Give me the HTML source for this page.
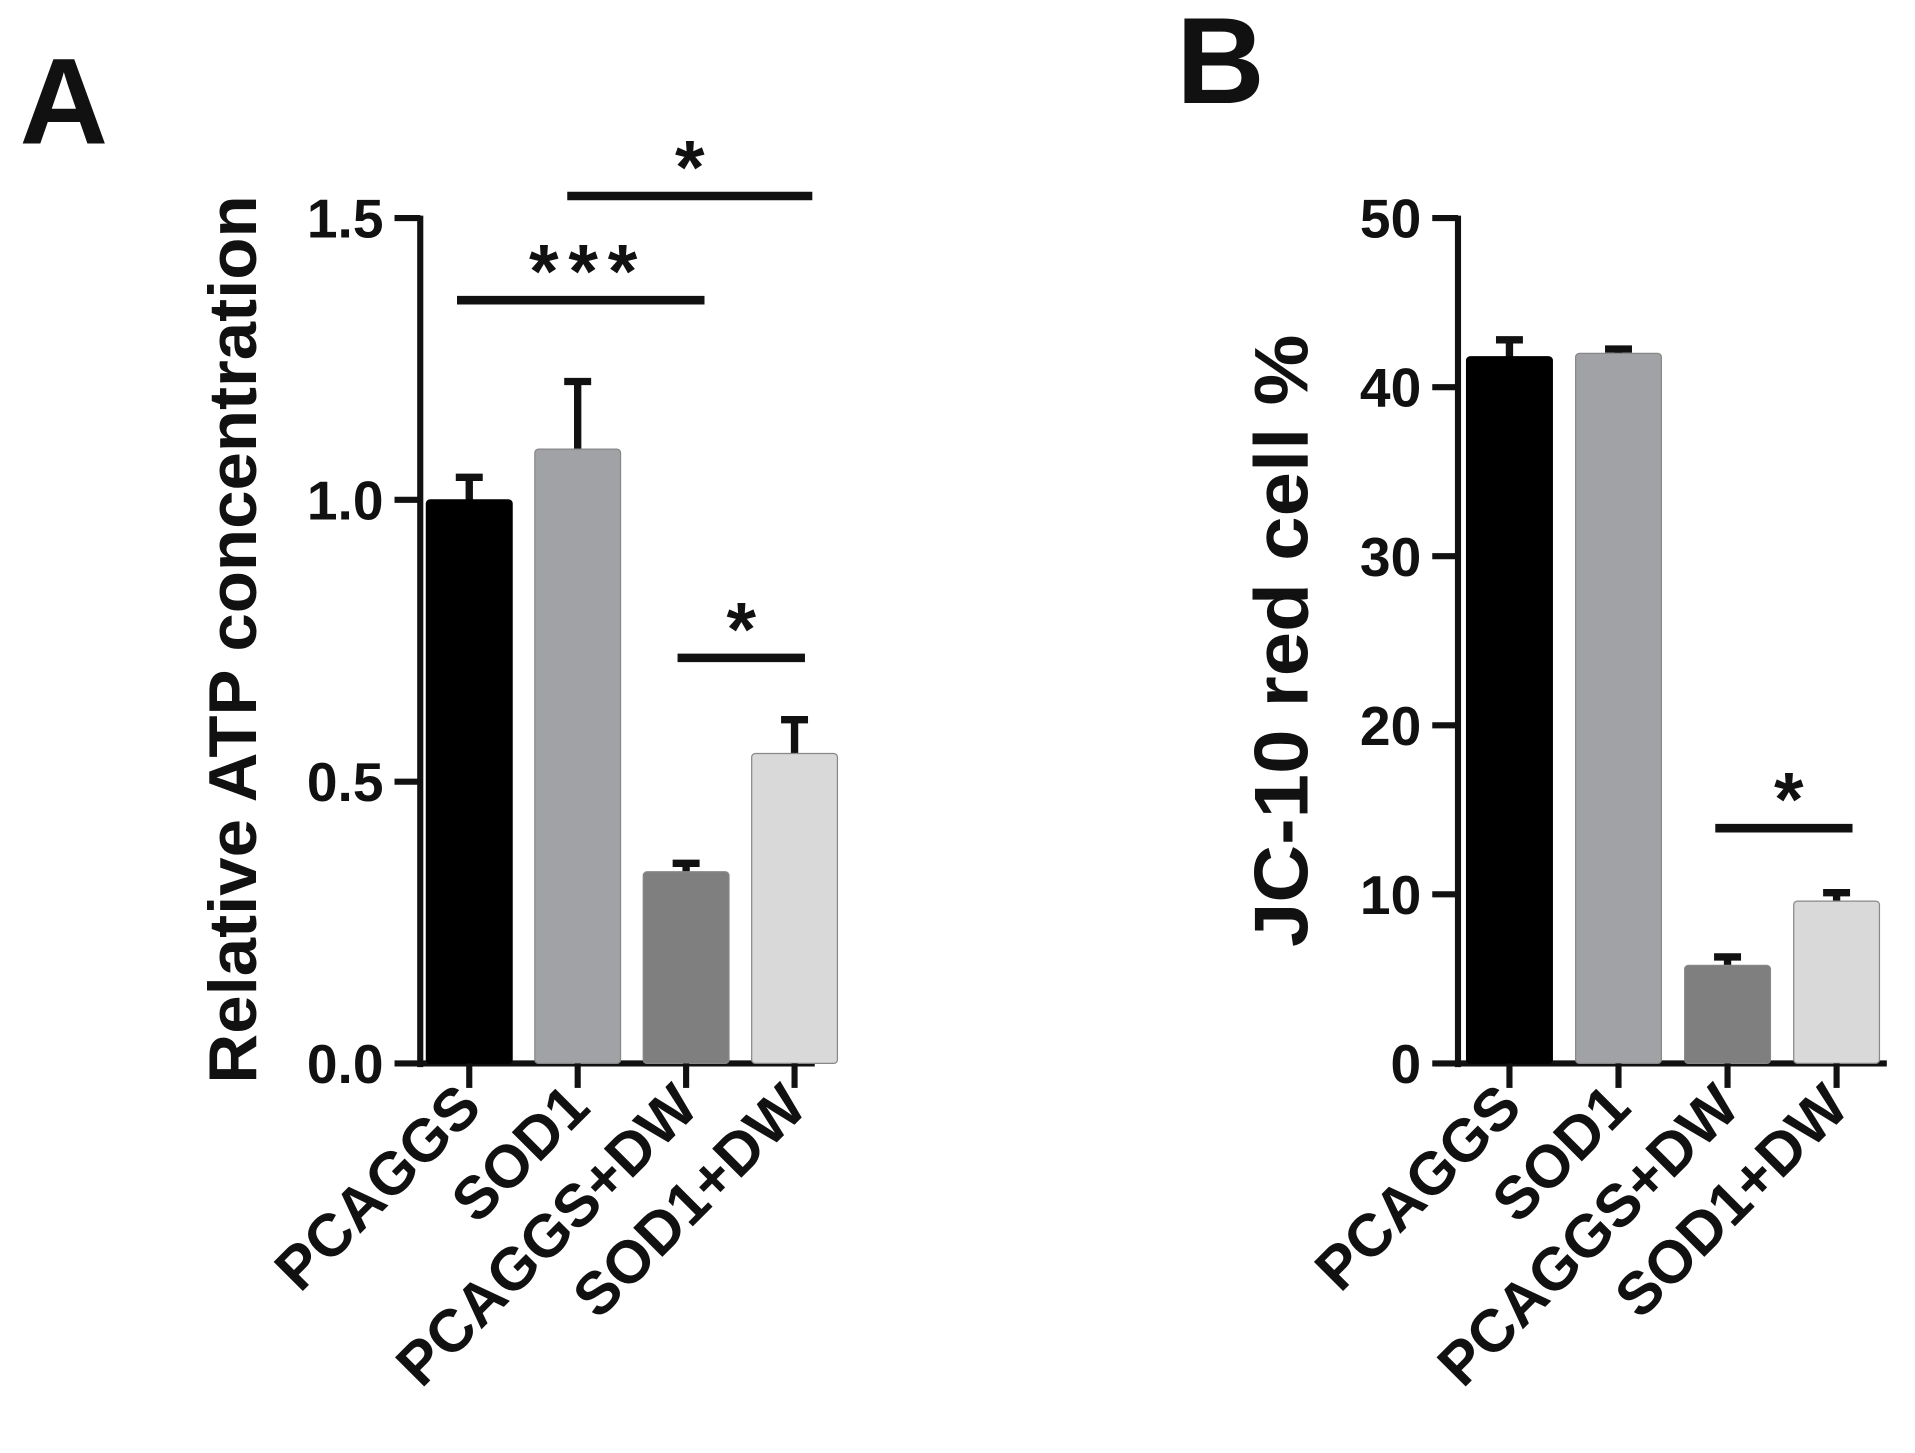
<!DOCTYPE html>
<html><head><meta charset="utf-8"><style>
html,body{margin:0;padding:0;background:#fff;}
svg{display:block;}
text{font-family:"Liberation Sans",Arial,sans-serif;font-weight:bold;fill:#111;}
</style></head><body>
<svg id="chart" width="1915" height="1453" viewBox="0 0 1563 1186" preserveAspectRatio="none" xmlns="http://www.w3.org/2000/svg">
<text x="16" y="117" font-size="100">A</text>
<text x="960" y="84" font-size="100">B</text>
<g id="pa"></g>
<g id="pb"></g>
</svg>
<script>
const categories = ["PCAGGS","SOD1","PCAGGS+DW","SOD1+DW"];
const atpValues = [1.0, 1.09, 0.34, 0.55];
const atpErrors = [0.04, 0.12, 0.015, 0.06];
const atpTicks = ["0.0","0.5","1.0","1.5"];
const jcValues = [41.8, 42.0, 5.8, 9.6];
const jcErrors = [1.0, 0.25, 0.5, 0.5];
const jcTicks = ["0","10","20","30","40","50"];
const colors = ["#000000","#a1a2a6","#7f7f7f","#d9d9d9"];
const NS="http://www.w3.org/2000/svg";
function mk(p,tag,a){const e=document.createElementNS(NS,tag);for(const k in a)e.setAttribute(k,a[k]);p.appendChild(e);return e;}

function panel(g,o){
  const y=v=>o.y0-(v/o.max)*(o.y0-o.yTop);
  const x=i=>o.x0+o.firstC+i*o.step;
  const ya=mk(g,'line',{x1:o.x0,y1:o.yTop-2,x2:o.x0,y2:o.y0+3,stroke:'#111','stroke-width':5});
  
  
  const xa=mk(g,'line',{x1:o.x0-2,y1:o.y0,x2:o.xEnd,y2:o.y0,stroke:'#111','stroke-width':5});
  
  
  o.ticks.forEach(t=>{
    const v=parseFloat(t),yy=y(v);
    const tl=mk(g,'line',{x1:o.x0-21,y1:yy,x2:o.x0,y2:yy,stroke:'#111','stroke-width':5});
    
    
    const tx=mk(g,'text',{x:o.x0-30,y:yy+16,'font-size':45,'text-anchor':'end'});
    tx.textContent=t;
    
    
  });
  const yl=mk(g,'text',{x:0,y:0,'font-size':o.ylfs,'text-anchor':'middle',textLength:o.ylLen,lengthAdjust:'spacingAndGlyphs',transform:`translate(${o.ylx},${o.yly}) rotate(-90)`});
  yl.textContent=o.ylabel;
  
  
  categories.forEach((c,i)=>{
    const cx=x(i);
    const v=o.vals[i],e=o.errs[i];
    const eb=mk(g,'line',{x1:cx,y1:y(v),x2:cx,y2:y(v+e),stroke:'#111','stroke-width':6});
    
    
    const cap=mk(g,'line',{x1:cx-11,y1:y(v+e),x2:cx+11,y2:y(v+e),stroke:'#111','stroke-width':6});
    
    
    const b=mk(g,'rect',{x:cx-35,y:y(v),width:70,height:o.y0-y(v),fill:colors[i],stroke:i==0?'#000':'#888','stroke-width':1,rx:3});
    
    
    const ct=mk(g,'line',{x1:cx,y1:o.y0,x2:cx,y2:o.y0+20,stroke:'#111','stroke-width':5});
    
    
    const lt=mk(g,'text',{x:0,y:0,'font-size':49,'text-anchor':'end',transform:`translate(${cx+12},${o.y0+38}) rotate(-45)`});
    lt.textContent=c;
    
    
  });
  o.sig.forEach(s=>{
    const l=mk(g,'line',{x1:s[0],y1:s[2],x2:s[1],y2:s[2],stroke:'#111','stroke-width':7});
    
    
    const t=mk(g,'text',{x:(s[0]+s[1])/2+s[4],y:s[2]-2,'font-size':62,'text-anchor':'middle','font-weight':'normal','letter-spacing':s[3].length>1?8:0});
    t.textContent=s[3];
    
    
  });
}
panel(document.getElementById('pa'),{x0:343,xEnd:665,y0:868,yTop:178,max:1.5,firstC:40,step:88.5,vals:atpValues,errs:atpErrors,ticks:atpTicks,ylabel:"Relative ATP concentration",ylfs:55,ylLen:725,ylx:209,yly:522,
  sig:[[373,575,245,"***",6],[463,663,160,"*",0],[553,657,537,"*",0]]});
panel(document.getElementById('pb'),{x0:1190,xEnd:1540,y0:868,yTop:178,max:50,firstC:42,step:89,vals:jcValues,errs:jcErrors,ticks:jcTicks,ylabel:"JC-10 red cell %",ylfs:62,ylLen:500,ylx:1067,yly:523,
  sig:[[1400,1512,676,"*",4]]});
</script>
</body></html>
